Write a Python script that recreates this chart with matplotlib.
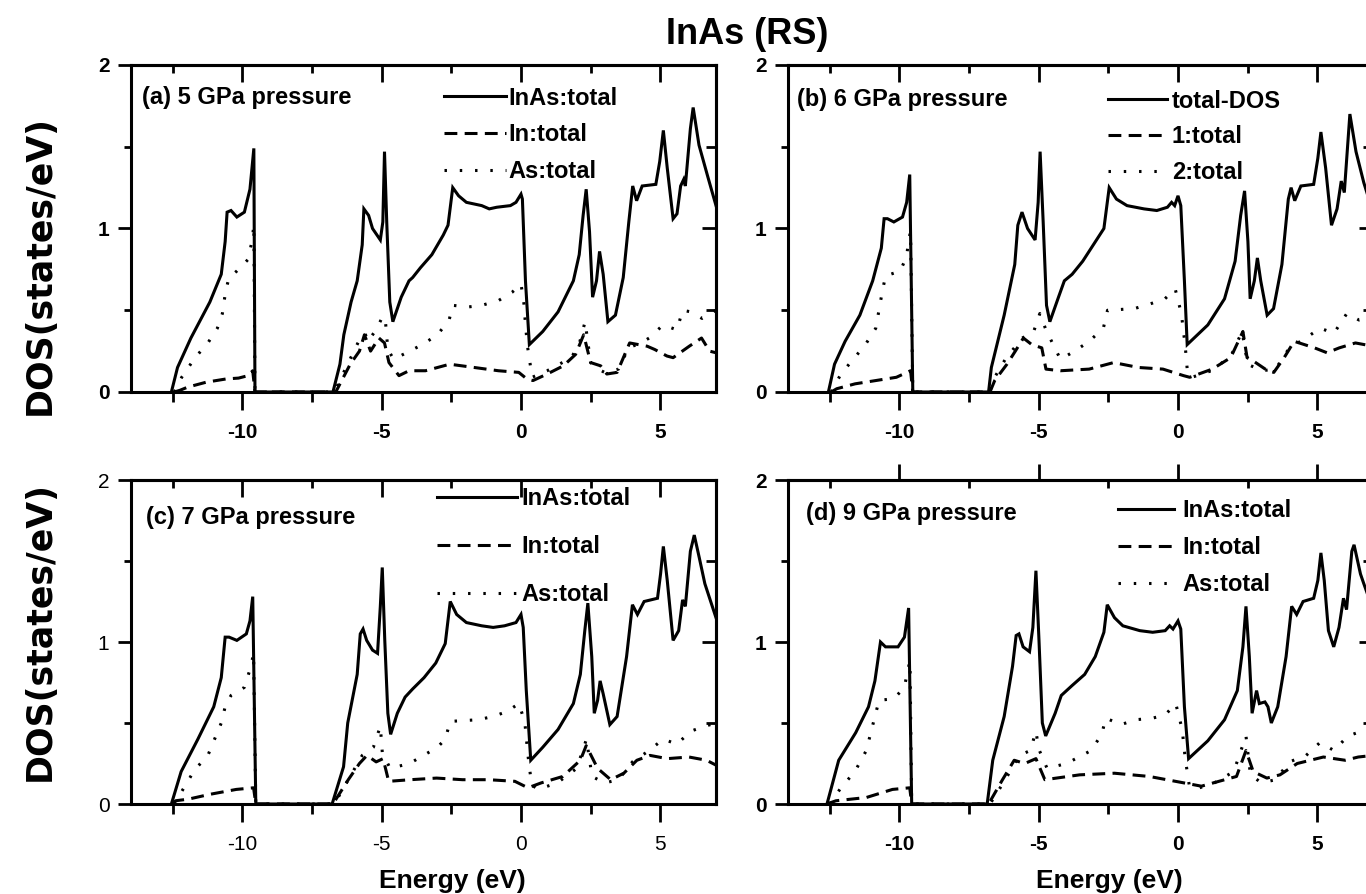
import matplotlib

matplotlib.use("Agg")
import matplotlib.pyplot as plt
import numpy as np
from matplotlib.ticker import FixedLocator

plt.rcParams["font.family"] = ["Liberation Sans", "DejaVu Sans"]
plt.rcParams["axes.unicode_minus"] = False

# DOS (states/eV), as (energy eV, DOS) pairs

A_TOTAL = [(-12.55, 0.0), (-12.33, 0.15), (-11.85, 0.33), (-11.17, 0.55), (-10.76, 0.72), (-10.62, 0.92),
           (-10.55, 1.10), (-10.41, 1.11), (-10.2, 1.07), (-9.93, 1.10), (-9.73, 1.24), (-9.59, 1.49),
           (-9.55, 0.0), (-6.75, 0.0), (-6.5, 0.17), (-6.36, 0.35), (-6.1, 0.55), (-5.88, 0.68),
           (-5.7, 0.90), (-5.64, 1.12), (-5.47, 1.08), (-5.33, 1.0), (-5.05, 0.93), (-4.96, 1.04),
           (-4.9, 1.47), (-4.82, 1.04), (-4.71, 0.55), (-4.6, 0.43), (-4.3, 0.58), (-4.02, 0.68),
           (-3.89, 0.70), (-3.61, 0.76), (-3.2, 0.84), (-2.79, 0.96), (-2.62, 1.02), (-2.45, 1.25),
           (-2.24, 1.20), (-1.96, 1.16), (-1.41, 1.14), (-1.14, 1.12), (-0.87, 1.13), (-0.38, 1.14),
           (-0.18, 1.16), (0.0, 1.21), (0.05, 1.18), (0.16, 0.68), (0.30, 0.29), (0.78, 0.37),
           (1.33, 0.49), (1.88, 0.68), (2.09, 0.84), (2.23, 1.08), (2.34, 1.24), (2.46, 0.98),
           (2.57, 0.58), (2.71, 0.68), (2.82, 0.86), (2.95, 0.72), (3.12, 0.43), (3.39, 0.47),
           (3.67, 0.70), (3.87, 1.04), (4.01, 1.26), (4.15, 1.17), (4.35, 1.26), (4.84, 1.27),
           (4.98, 1.41), (5.11, 1.60), (5.25, 1.37), (5.46, 1.06), (5.6, 1.09), (5.73, 1.26),
           (5.84, 1.30), (5.9, 1.26), (6.08, 1.61), (6.18, 1.74), (6.39, 1.51), (6.7, 1.32), (7.0, 1.14)]
A_IN = [(-12.45, 0.0), (-12.25, 0.01), (-11.96, 0.03), (-11.3, 0.06), (-10.58, 0.08), (-10.14, 0.085),
        (-9.8, 0.10), (-9.63, 0.13), (-9.55, 0.0), (-6.65, 0.0), (-6.13, 0.17), (-5.8, 0.25),
        (-5.62, 0.35), (-5.4, 0.25), (-5.1, 0.33), (-4.9, 0.30), (-4.74, 0.18), (-4.38, 0.10),
        (-4.02, 0.13), (-3.43, 0.13), (-2.56, 0.17), (-1.68, 0.15), (-0.81, 0.13), (-0.08, 0.12),
        (0.21, 0.08), (0.43, 0.07), (0.94, 0.11), (1.52, 0.16), (1.96, 0.23), (2.25, 0.35),
        (2.5, 0.18), (2.86, 0.16), (3.08, 0.11), (3.45, 0.12), (3.9, 0.30), (4.53, 0.28),
        (4.8, 0.26), (5.24, 0.22), (5.46, 0.21), (6.04, 0.28), (6.48, 0.33), (6.77, 0.25), (7.0, 0.24)]
A_AS = [(-12.45, 0.0), (-12.18, 0.09), (-11.7, 0.21), (-11.24, 0.30), (-10.9, 0.39), (-10.72, 0.48),
        (-10.6, 0.62), (-10.48, 0.70), (-10.2, 0.74), (-9.8, 0.81), (-9.66, 0.92), (-9.59, 1.02),
        (-9.55, 0.0), (-6.7, 0.0), (-6.28, 0.15), (-5.77, 0.33), (-5.6, 0.36), (-5.5, 0.31),
        (-5.2, 0.38), (-5.0, 0.45), (-4.88, 0.46), (-4.78, 0.26), (-4.57, 0.20), (-4.0, 0.25),
        (-3.54, 0.29), (-3.0, 0.35), (-2.58, 0.44), (-2.45, 0.53), (-1.9, 0.52), (-1.41, 0.53),
        (-0.8, 0.56), (-0.32, 0.61), (0.0, 0.66), (0.1, 0.55), (0.17, 0.39), (0.25, 0.26),
        (0.4, 0.09), (0.94, 0.13), (1.81, 0.21), (2.1, 0.30), (2.3, 0.43), (2.5, 0.18),
        (2.65, 0.15), (3.0, 0.12), (3.5, 0.14), (3.86, 0.27), (4.3, 0.30), (4.6, 0.33),
        (5.1, 0.41), (5.6, 0.38), (5.8, 0.50), (6.1, 0.49), (6.5, 0.45), (7.0, 0.50)]

B_TOTAL = [(-12.55, 0.0), (-12.33, 0.17), (-11.95, 0.31), (-11.42, 0.47), (-10.96, 0.68), (-10.65, 0.88),
           (-10.55, 1.06), (-10.43, 1.06), (-10.2, 1.04), (-9.89, 1.07), (-9.74, 1.16), (-9.63, 1.33),
           (-9.52, 0.0), (-6.8, 0.0), (-6.7, 0.15), (-6.24, 0.47), (-5.86, 0.78), (-5.75, 1.02),
           (-5.6, 1.10), (-5.4, 1.0), (-5.13, 0.93), (-5.02, 1.16), (-4.95, 1.47), (-4.84, 1.04),
           (-4.72, 0.53), (-4.6, 0.43), (-4.29, 0.58), (-4.08, 0.68), (-3.8, 0.72), (-3.42, 0.80),
           (-3.04, 0.90), (-2.66, 1.0), (-2.47, 1.25), (-2.21, 1.18), (-1.83, 1.14), (-1.22, 1.12),
           (-0.76, 1.11), (-0.38, 1.13), (-0.23, 1.16), (-0.12, 1.14), (0.0, 1.20), (0.1, 1.14),
           (0.23, 0.68), (0.33, 0.29), (1.07, 0.41), (1.67, 0.57), (2.05, 0.80), (2.25, 1.08),
           (2.39, 1.23), (2.51, 0.92), (2.59, 0.57), (2.74, 0.68), (2.85, 0.82), (2.97, 0.68),
           (3.2, 0.47), (3.43, 0.51), (3.73, 0.78), (3.96, 1.18), (4.06, 1.25), (4.19, 1.17),
           (4.41, 1.26), (4.87, 1.27), (5.02, 1.43), (5.13, 1.59), (5.3, 1.37), (5.51, 1.02),
           (5.71, 1.12), (5.86, 1.29), (5.97, 1.22), (6.17, 1.70), (6.39, 1.47), (6.67, 1.28), (7.0, 1.10)]
B_IN = [(-12.45, 0.0), (-12.25, 0.02), (-11.59, 0.05), (-10.85, 0.07), (-10.11, 0.09), (-9.6, 0.13),
        (-9.52, 0.0), (-6.75, 0.0), (-6.58, 0.07), (-6.14, 0.17), (-5.84, 0.25), (-5.55, 0.33),
        (-5.25, 0.29), (-4.89, 0.27), (-4.74, 0.14), (-4.22, 0.13), (-3.19, 0.14), (-2.31, 0.18),
        (-1.42, 0.15), (-0.54, 0.14), (0.2, 0.10), (0.42, 0.09), (1.23, 0.14), (1.89, 0.21),
        (2.33, 0.37), (2.48, 0.21), (2.7, 0.19), (3.22, 0.13), (3.44, 0.12), (3.81, 0.21),
        (4.17, 0.31), (4.9, 0.27), (5.35, 0.24), (5.79, 0.27), (6.37, 0.30), (7.0, 0.28)]
B_AS = [(-12.45, 0.0), (-12.1, 0.11), (-11.66, 0.20), (-11.22, 0.29), (-10.85, 0.39), (-10.63, 0.60),
        (-10.5, 0.71), (-9.97, 0.74), (-9.74, 0.83), (-9.67, 0.93), (-9.6, 0.98), (-9.52, 0.0),
        (-6.75, 0.0), (-6.65, 0.07), (-6.2, 0.20), (-5.6, 0.33), (-5.2, 0.36), (-4.96, 0.48),
        (-4.74, 0.38), (-4.22, 0.20), (-3.71, 0.25), (-3.19, 0.31), (-2.68, 0.39), (-2.53, 0.50),
        (-1.57, 0.51), (-0.98, 0.54), (-0.47, 0.57), (-0.1, 0.63), (0.12, 0.48), (0.26, 0.28),
        (0.34, 0.12), (0.5, 0.09), (1.2, 0.13), (1.9, 0.22), (2.3, 0.37), (2.5, 0.17),
        (3.0, 0.13), (3.5, 0.14), (4.0, 0.27), (4.5, 0.32), (5.1, 0.39), (5.6, 0.36),
        (6.06, 0.48), (6.5, 0.44), (7.0, 0.46)]

C_TOTAL = [(-12.55, 0.0), (-12.2, 0.20), (-11.6, 0.40), (-11.03, 0.60), (-10.76, 0.78), (-10.62, 1.03),
           (-10.48, 1.03), (-10.2, 1.01), (-9.86, 1.05), (-9.73, 1.13), (-9.63, 1.28), (-9.52, 0.0),
           (-6.78, 0.0), (-6.37, 0.23), (-6.22, 0.50), (-5.88, 0.80), (-5.77, 1.05), (-5.67, 1.08),
           (-5.54, 1.01), (-5.33, 0.95), (-5.15, 0.93), (-5.05, 1.22), (-4.98, 1.46), (-4.89, 1.01),
           (-4.78, 0.56), (-4.68, 0.43), (-4.44, 0.56), (-4.16, 0.66), (-3.89, 0.71), (-3.48, 0.78),
           (-3.06, 0.87), (-2.72, 0.99), (-2.54, 1.25), (-2.31, 1.17), (-1.96, 1.12), (-1.41, 1.10),
           (-1.0, 1.09), (-0.59, 1.10), (-0.18, 1.12), (0.0, 1.17), (0.08, 1.09), (0.19, 0.70),
           (0.35, 0.27), (0.78, 0.35), (1.33, 0.46), (1.88, 0.62), (2.13, 0.80), (2.29, 1.07),
           (2.4, 1.24), (2.54, 0.91), (2.63, 0.56), (2.75, 0.64), (2.84, 0.76), (2.95, 0.68),
           (3.19, 0.49), (3.45, 0.54), (3.79, 0.91), (4.0, 1.23), (4.18, 1.17), (4.42, 1.25),
           (4.9, 1.27), (5.01, 1.42), (5.11, 1.59), (5.25, 1.38), (5.46, 1.01), (5.66, 1.07),
           (5.8, 1.26), (5.9, 1.22), (6.08, 1.56), (6.22, 1.66), (6.4, 1.52), (6.6, 1.36), (7.0, 1.15)]
C_IN = [(-12.5, 0.0), (-12.4, 0.02), (-11.94, 0.03), (-11.16, 0.06), (-10.22, 0.09), (-9.6, 0.10),
        (-9.52, 0.0), (-6.75, 0.0), (-6.2, 0.15), (-5.8, 0.25), (-5.53, 0.30), (-5.2, 0.26),
        (-4.95, 0.28), (-4.75, 0.14), (-3.97, 0.15), (-3.03, 0.16), (-2.1, 0.15), (-1.16, 0.15),
        (-0.22, 0.14), (0.25, 0.10), (0.72, 0.13), (1.5, 0.17), (2.13, 0.27), (2.34, 0.36),
        (2.75, 0.22), (3.22, 0.15), (3.69, 0.19), (4.16, 0.27), (4.63, 0.30), (5.25, 0.28),
        (6.03, 0.29), (6.66, 0.27), (7.0, 0.24)]
C_AS = [(-12.45, 0.0), (-12.1, 0.10), (-11.72, 0.21), (-11.24, 0.30), (-10.76, 0.50), (-10.62, 0.60),
        (-10.41, 0.67), (-9.93, 0.72), (-9.73, 0.83), (-9.66, 0.88), (-9.6, 0.93), (-9.52, 0.0),
        (-6.7, 0.0), (-6.2, 0.15), (-5.7, 0.30), (-5.3, 0.35), (-5.05, 0.48), (-4.98, 0.32),
        (-4.7, 0.22), (-4.0, 0.25), (-3.5, 0.30), (-3.0, 0.35), (-2.72, 0.40), (-2.54, 0.51),
        (-1.55, 0.52), (-1.0, 0.54), (-0.52, 0.57), (-0.07, 0.62), (0.14, 0.50), (0.25, 0.30),
        (0.38, 0.12), (0.6, 0.09), (1.3, 0.13), (2.0, 0.22), (2.35, 0.40), (2.55, 0.17),
        (3.0, 0.13), (3.5, 0.15), (4.0, 0.26), (4.6, 0.33), (5.1, 0.40), (5.6, 0.37),
        (6.1, 0.45), (6.6, 0.48), (7.0, 0.50)]

D_TOTAL = [(-12.6, 0.0), (-12.18, 0.27), (-11.57, 0.44), (-11.11, 0.60), (-10.88, 0.76), (-10.68, 1.0),
           (-10.5, 0.97), (-10.05, 0.97), (-9.82, 1.03), (-9.67, 1.21), (-9.56, 0.0), (-6.85, 0.0),
           (-6.65, 0.27), (-6.24, 0.54), (-5.94, 0.85), (-5.81, 1.04), (-5.71, 1.05), (-5.56, 0.97),
           (-5.33, 0.94), (-5.21, 1.09), (-5.1, 1.44), (-4.99, 1.01), (-4.87, 0.50), (-4.75, 0.42),
           (-4.41, 0.56), (-4.19, 0.67), (-3.81, 0.73), (-3.35, 0.80), (-2.97, 0.91), (-2.66, 1.06),
           (-2.54, 1.23), (-2.28, 1.15), (-1.98, 1.10), (-1.37, 1.07), (-0.91, 1.06), (-0.46, 1.07),
           (-0.3, 1.10), (-0.18, 1.08), (0.0, 1.13), (0.1, 1.08), (0.23, 0.60), (0.38, 0.28),
           (1.07, 0.39), (1.67, 0.52), (2.13, 0.70), (2.33, 0.97), (2.44, 1.22), (2.56, 0.91),
           (2.66, 0.56), (2.82, 0.70), (2.92, 0.62), (3.12, 0.63), (3.23, 0.60), (3.35, 0.50),
           (3.58, 0.60), (3.88, 0.91), (4.08, 1.22), (4.26, 1.17), (4.49, 1.25), (4.87, 1.27),
           (5.02, 1.38), (5.13, 1.55), (5.25, 1.38), (5.4, 1.07), (5.59, 0.97), (5.78, 1.09),
           (5.94, 1.27), (6.05, 1.20), (6.24, 1.56), (6.32, 1.60), (6.55, 1.42), (6.67, 1.36), (7.0, 1.20)]
D_IN = [(-12.6, 0.0), (-12.28, 0.02), (-11.19, 0.04), (-10.25, 0.09), (-9.63, 0.10), (-9.56, 0.0),
        (-6.8, 0.0), (-6.3, 0.15), (-5.88, 0.27), (-5.5, 0.25), (-5.1, 0.28), (-4.78, 0.15),
        (-3.53, 0.18), (-2.28, 0.19), (-1.03, 0.17), (0.22, 0.13), (0.84, 0.11), (2.1, 0.17),
        (2.44, 0.33), (2.7, 0.20), (3.19, 0.16), (3.66, 0.18), (4.28, 0.25), (5.22, 0.29),
        (6.0, 0.27), (6.47, 0.29), (7.0, 0.30)]
D_AS = [(-12.5, 0.0), (-12.1, 0.10), (-11.6, 0.20), (-11.19, 0.33), (-10.88, 0.54), (-10.73, 0.64),
        (-10.2, 0.65), (-9.82, 0.72), (-9.7, 0.83), (-9.62, 0.88), (-9.56, 0.0), (-6.75, 0.0),
        (-6.2, 0.15), (-5.7, 0.30), (-5.3, 0.33), (-5.1, 0.45), (-5.0, 0.34), (-4.7, 0.22),
        (-4.0, 0.25), (-3.12, 0.33), (-2.74, 0.43), (-2.59, 0.53), (-2.05, 0.49), (-1.52, 0.52),
        (-0.91, 0.53), (-0.46, 0.55), (-0.08, 0.62), (0.15, 0.46), (0.26, 0.28), (0.4, 0.12),
        (0.6, 0.09), (1.3, 0.13), (2.0, 0.20), (2.44, 0.42), (2.6, 0.18), (3.0, 0.13),
        (3.5, 0.15), (4.0, 0.26), (4.6, 0.30), (5.1, 0.38), (5.6, 0.33), (6.1, 0.42),
        (6.6, 0.45), (7.0, 0.50)]

PANEL_TITLES = ["(a) 5 GPa pressure", "(b) 6 GPa pressure", "(c) 7 GPa pressure", "(d) 9 GPa pressure"]
LABELS_ELEM = ["InAs:total", "In:total", "As:total"]
LABELS_NUM = ["total-DOS", "1:total", "2:total"]

X_MAJOR = [-10, -5, 0, 5]
X_MINOR = [-12.5, -7.5, -2.5, 2.5]
Y_MAJOR = [0, 1, 2]
Y_MINOR = [0.5, 1.5]

FIG_W, FIG_H = 1366, 894
LW = 2.2
STYLES = ["-", (0, (4.2, 2.4)), (0, (0.8, 4.2))]


def rect(left, top, right, bottom):
    return [left / FIG_W, 1 - bottom / FIG_H, (right - left) / FIG_W, (bottom - top) / FIG_H]


def style_axes(ax, bold, top_major_out):
    ax.set_xlim(-14, 7)
    ax.set_ylim(0, 2)
    ax.set_xticks(X_MAJOR)
    ax.set_xticks(X_MINOR, minor=True)
    ax.set_yticks(Y_MAJOR)
    ax.set_yticks(Y_MINOR, minor=True)
    for sp in ax.spines.values():
        sp.set_linewidth(LW)
    ax.tick_params(axis="both", which="both", width=2, labelsize=15, direction="out",
                   top=False, right=False)
    ax.tick_params(axis="y", which="major", length=9.5, pad=6)
    ax.tick_params(axis="y", which="minor", length=5)
    ax.tick_params(axis="x", which="major", length=13, pad=9)
    ax.tick_params(axis="x", which="minor", length=7)
    weight = "bold" if bold else "normal"
    plt.setp(ax.get_xticklabels() + ax.get_yticklabels(), fontweight=weight)

    top = ax.secondary_xaxis("top")
    top.xaxis.set_major_locator(FixedLocator(X_MAJOR))
    top.xaxis.set_minor_locator(FixedLocator(X_MINOR))
    top.tick_params(which="both", labeltop=False, width=2)
    if top_major_out:
        top.tick_params(which="major", direction="out", length=11.5)
        top.tick_params(which="minor", direction="in", length=5.5)
    else:
        top.tick_params(which="major", direction="in", length=12)
        top.tick_params(which="minor", direction="in", length=6)
    top.spines["top"].set_linewidth(LW)

    right = ax.secondary_yaxis("right")
    right.yaxis.set_major_locator(FixedLocator(Y_MAJOR))
    right.yaxis.set_minor_locator(FixedLocator(Y_MINOR))
    right.tick_params(which="both", labelright=False, direction="in", width=2)
    right.tick_params(which="major", length=10)
    right.tick_params(which="minor", length=7)
    right.spines["right"].set_linewidth(LW)


fig = plt.figure(figsize=(FIG_W / 100, FIG_H / 100), dpi=100)

panels = [
    dict(rect=rect(131, 65, 716, 392), series=(A_TOTAL, A_IN, A_AS), labels=LABELS_ELEM,
         title_xy=(0.019, 0.902), leg_xy=(0.535, 0.934), hlen=2.63, hpad=0.1, lsp=0.58,
         bold=True, top_out=False, xlabel=False),
    dict(rect=rect(788, 65, 1373, 392), series=(B_TOTAL, B_IN, B_AS), labels=LABELS_NUM,
         title_xy=(0.015, 0.893), leg_xy=(0.547, 0.925), hlen=2.5, hpad=0.2, lsp=0.54,
         bold=True, top_out=False, xlabel=False),
    dict(rect=rect(131, 480, 716, 804), series=(C_TOTAL, C_IN, C_AS), labels=LABELS_ELEM,
         title_xy=(0.026, 0.883), leg_xy=(0.523, 0.977), hlen=3.4, hpad=0.17, lsp=1.05,
         bold=False, top_out=False, xlabel=True),
    dict(rect=rect(788, 480, 1373, 804), series=(D_TOTAL, D_IN, D_AS), labels=LABELS_ELEM,
         title_xy=(0.031, 0.898), leg_xy=(0.564, 0.94), hlen=2.37, hpad=0.34, lsp=0.58,
         bold=True, top_out=True, xlabel=True),
]

for title, p in zip(PANEL_TITLES, panels):
    ax = fig.add_axes(p["rect"])
    for data, ls, label in zip(p["series"], STYLES, p["labels"]):
        e, dos = np.array(data).T
        ax.plot(e, dos, color="black", lw=LW, ls=ls, label=label, solid_joinstyle="miter")
    style_axes(ax, p["bold"], p["top_out"])
    ax.text(*p["title_xy"], title, transform=ax.transAxes, fontsize=17, fontweight="bold",
            va="center", ha="left")
    ax.legend(loc="upper left", bbox_to_anchor=p["leg_xy"], frameon=False,
              prop={"weight": "bold", "size": 17}, handlelength=p["hlen"],
              handletextpad=p["hpad"], labelspacing=p["lsp"], borderpad=0, borderaxespad=0)
    if p["xlabel"]:
        ax.set_xlabel("Energy (eV)", fontsize=19, fontweight="bold")
        ax.xaxis.set_label_coords(0.55, -0.2)

# y labels, one per row
for yc in (265, 631):
    fig.text(40 / FIG_W, 1 - yc / FIG_H, "DOS(states/eV)", rotation=90, fontsize=25,
             fontweight="bold", family="DejaVu Sans", ha="center", va="center")

fig.text(747 / FIG_W, 1 - 35 / FIG_H, "InAs (RS)", fontsize=26, fontweight="bold",
         ha="center", va="center")

fig.savefig("out.png", dpi=100)
